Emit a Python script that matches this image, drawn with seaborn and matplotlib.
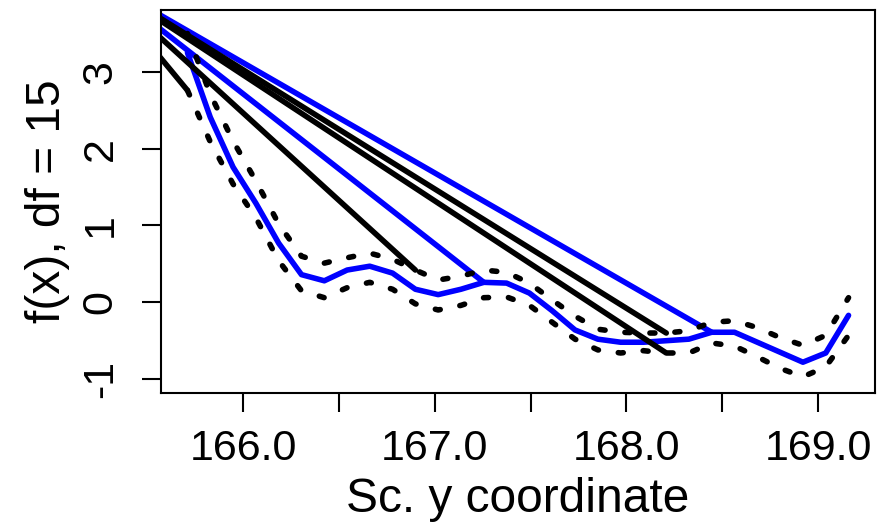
import numpy as np
import pandas as pd
import matplotlib
matplotlib.use("Agg")
import matplotlib.pyplot as plt
import seaborn as sns

# ---- data ----
sc_y = [165.710, 165.829, 165.948, 166.067, 166.186, 166.305, 166.424, 166.543,
        166.661, 166.780, 166.899, 167.018, 167.137, 167.256, 167.375, 167.494,
        167.613, 167.732, 167.851, 167.970, 168.089, 168.208, 168.326, 168.445,
        168.564, 168.683, 168.802, 168.921, 169.040, 169.159]
fit = [3.25, 2.41, 1.76, 1.29, 0.77, 0.36, 0.28, 0.42, 0.47, 0.38, 0.17, 0.10,
       0.17, 0.26, 0.25, 0.12, -0.11, -0.36, -0.48, -0.52, -0.52, -0.50, -0.48,
       -0.39, -0.39, -0.52, -0.65, -0.78, -0.66, -0.17]
upper = [3.50, 2.71, 2.10, 1.58, 1.02, 0.60, 0.51, 0.58, 0.64, 0.56, 0.42, 0.29,
         0.34, 0.42, 0.39, 0.25, 0.03, -0.18, -0.35, -0.39, -0.40, -0.40, -0.37,
         -0.26, -0.24, -0.33, -0.46, -0.56, -0.43, 0.06]
lower = [2.76, 2.09, 1.54, 1.10, 0.54, 0.15, 0.06, 0.19, 0.26, 0.17, -0.02, -0.10,
         -0.04, 0.06, 0.07, -0.04, -0.26, -0.48, -0.62, -0.66, -0.63, -0.66, -0.66,
         -0.53, -0.57, -0.71, -0.86, -0.97, -0.84, -0.43]
# out-of-order point that the lines jump back to
jump_x = 165.22
jump_y = 4.24
fit_jump_idx = [13, 23]
upper_jump_idx = [10, 21]
lower_jump_idx = [0, 21]

x_ticks = [166.0, 166.5, 167.0, 167.5, 168.0, 168.5, 169.0]
x_ticklabels = ["166.0", "", "167.0", "", "168.0", "", "169.0"]
y_ticks = [-1, 0, 1, 2, 3]
y_ticklabels = ["-1", "0", "1", "2", "3"]
x_label = "Sc. y coordinate"
y_label = "f(x), df = 15"

# ---- styling ----
sns.set_style("white")
plt.rcParams["font.family"] = ["Liberation Sans", "DejaVu Sans"]
plt.rcParams["text.color"] = "black"
plt.rcParams["axes.labelcolor"] = "black"

W, H = 891, 528
fig = plt.figure(figsize=(W / 100, H / 100), dpi=100)
L, R, T, B = 161, 875, 10, 393
ax = fig.add_axes([L / W, 1 - B / H, (R - L) / W, (B - T) / H])

LW = 4.0
df = pd.DataFrame({"x": sc_y, "fit": fit, "upper": upper, "lower": lower})


def jump_segments(values, idxs):
    rows = []
    for j, i in enumerate(idxs):
        rows.append({"x": jump_x, "y": jump_y, "seg": j})
        rows.append({"x": sc_y[i], "y": values[i], "seg": j})
    return pd.DataFrame(rows)


# fitted curve (blue)
sns.lineplot(data=df, x="x", y="fit", sort=False, estimator=None, color="#0000FF",
             lw=LW, ax=ax, solid_capstyle="round", solid_joinstyle="round")
seg = jump_segments(fit, fit_jump_idx)
sns.lineplot(data=seg, x="x", y="y", units="seg", sort=False, estimator=None,
             color="#0000FF", lw=LW, ax=ax, solid_capstyle="round")

# confidence bands (black)
for vals, idxs in ((upper, upper_jump_idx), (lower, lower_jump_idx)):
    seg = jump_segments(vals, idxs)
    sns.lineplot(data=seg, x="x", y="y", units="seg", sort=False, estimator=None,
                 color="black", lw=LW, ax=ax, solid_capstyle="round")
for col in ("upper", "lower"):
    sns.lineplot(data=df, x="x", y=col, sort=False, estimator=None, color="black",
                 lw=LW, ax=ax, linestyle=(0, (0.9, 3.6)), dash_capstyle="round")

ax.set_xlim(165.572, 169.297)
ax.set_ylim(-1.181, 3.806)

ax.set_xticks(x_ticks)
ax.set_xticklabels(x_ticklabels)
ax.set_yticks(y_ticks)
ax.set_yticklabels(y_ticklabels, rotation=90, va="center")

for s in ax.spines.values():
    s.set_visible(True)
    s.set_color("black")
    s.set_linewidth(1.5)

ax.tick_params(axis="both", direction="out", length=14, width=1.5, color="black",
               labelsize=31, labelcolor="black")
ax.tick_params(axis="x", pad=12, bottom=True)
ax.tick_params(axis="y", pad=15, left=True)

ax.set_xlabel(x_label, fontsize=34.5, labelpad=6, color="black")
ax.set_ylabel(y_label, fontsize=34.5, labelpad=8, color="black")
ax.grid(False)

fig.savefig("out.png", dpi=100)
